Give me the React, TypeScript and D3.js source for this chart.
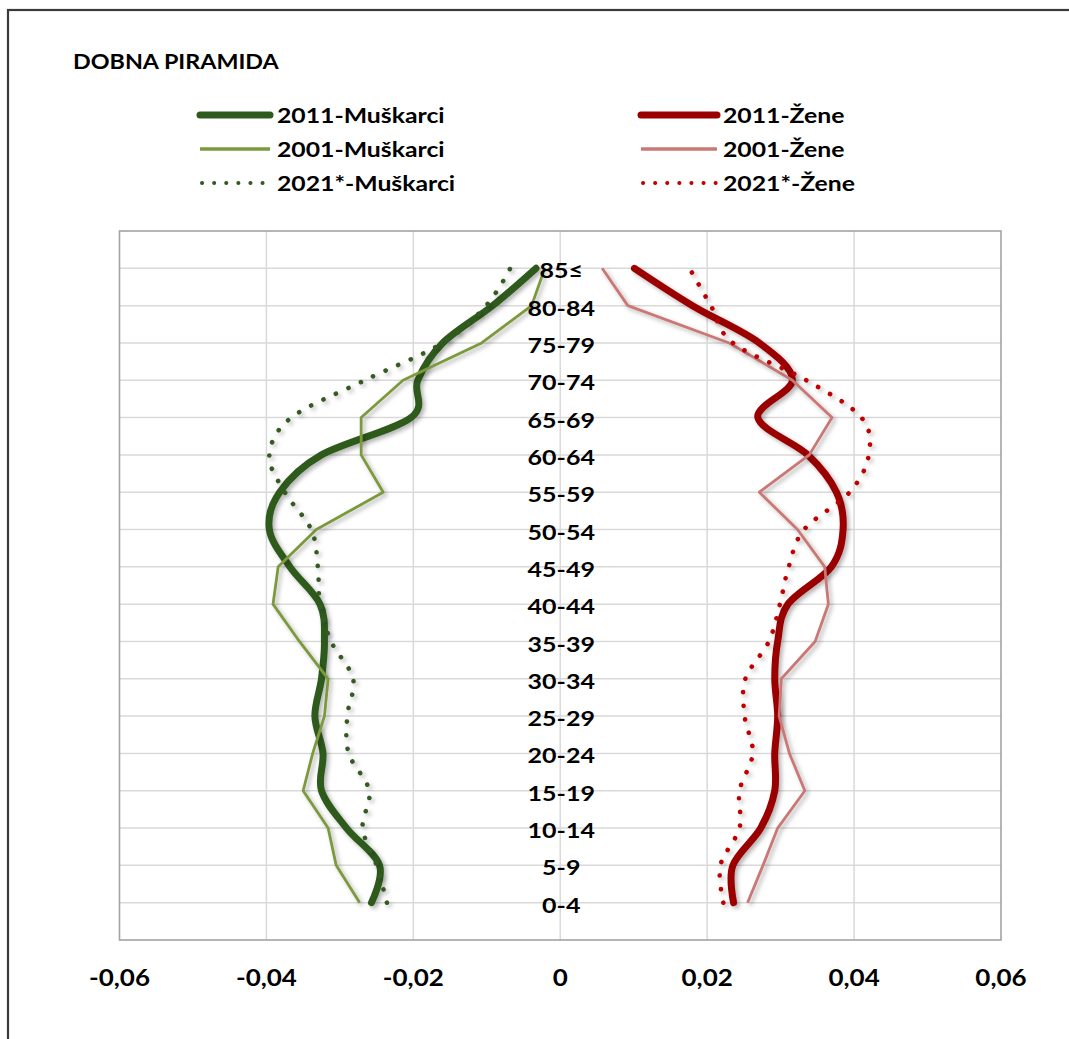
import React from "react";
import * as d3 from "d3";

const ageGroups = ["0-4","5-9","10-14","15-19","20-24","25-29","30-34","35-39","40-44","45-49","50-54","55-59","60-64","65-69","70-74","75-79","80-84","85≤"];

const men2011 = [-0.0257,-0.0246,-0.0291,-0.0325,-0.0323,-0.0334,-0.0325,-0.0321,-0.0327,-0.0368,-0.0396,-0.0382,-0.0325,-0.0203,-0.0194,-0.016,-0.0092,-0.0033];
const men2001 = [-0.0273,-0.0305,-0.0316,-0.035,-0.0337,-0.0321,-0.0316,-0.0355,-0.0391,-0.0384,-0.0332,-0.0241,-0.0271,-0.0271,-0.0214,-0.0107,-0.0039,-0.0021];
const men2021 = [-0.0236,-0.025,-0.0269,-0.026,-0.0288,-0.029,-0.0282,-0.0312,-0.0327,-0.033,-0.0339,-0.0375,-0.0396,-0.0366,-0.0266,-0.016,-0.0101,-0.0068];
const women2011 = [0.0236,0.0235,0.0273,0.0292,0.0292,0.0296,0.0292,0.0296,0.031,0.0369,0.0385,0.0376,0.0337,0.0269,0.0316,0.0271,0.018,0.0101];
const women2001 = [0.0255,0.0276,0.0296,0.0333,0.0312,0.0298,0.0301,0.0347,0.0365,0.036,0.0323,0.0271,0.0339,0.037,0.0316,0.023,0.0092,0.0057];
const women2021 = [0.0222,0.0218,0.0244,0.0244,0.0262,0.0251,0.0252,0.0284,0.0299,0.0311,0.0332,0.0394,0.042,0.041,0.0335,0.0235,0.0205,0.0176];

const xTicks = [-0.06,-0.04,-0.02,0,0.02,0.04,0.06];

const series = [
  { name: "2011-Muškarci", values: men2011, color: "#2f5a1e", kind: "thick" },
  { name: "2011-Žene", values: women2011, color: "#9b0000", kind: "thick" },
  { name: "2001-Muškarci", values: men2001, color: "#7b9a3c", kind: "thin" },
  { name: "2001-Žene", values: women2001, color: "#c97874", kind: "thin" },
  { name: "2021*-Muškarci", values: men2021, color: "#345a22", kind: "dot" },
  { name: "2021*-Žene", values: women2021, color: "#c00000", kind: "dot" },
];

const FONT = "Lato, 'Open Sans', sans-serif";

const locale = d3.formatLocale({ decimal: ",", thousands: ".", grouping: [3], currency: ["", ""], minus: "-" });
const fmt = (v: number) => (Math.abs(v) < 1e-9 ? "0" : locale.format(".2f")(v));

function styleFor(kind: string, color: string) {
  if (kind === "thick") return { stroke: color, strokeWidth: 7, strokeLinecap: "round" as const };
  if (kind === "thin") return { stroke: color, strokeWidth: 2.8, strokeLinecap: "butt" as const };
  return { stroke: color, strokeWidth: 4.6, strokeLinecap: "round" as const, strokeDasharray: "0.1 13.6" };
}

function T({ x, y, sx, size, anchor, children }: { x: number; y: number; sx: number; size: number; anchor?: string; children: React.ReactNode }) {
  return (
    <text transform={`translate(${x},${y}) scale(${sx},1)`} dy="0.36em" fontSize={size} fontWeight={700} fill="#000"
      textAnchor={anchor || "start"}>{children}</text>
  );
}

export default function App() {
  const W = 1069, H = 1039;
  const left = 119.5, right = 1001, top = 231, bottom = 940;
  const x = d3.scaleLinear().domain([-0.06, 0.06]).range([left, right]);
  const y = d3.scaleLinear().domain([-1, 18]).range([bottom, top]);
  const gridY = d3.range(0, 18);
  const smooth = d3.line<number>().x((v) => x(v)).y((_, i) => y(i)).curve(d3.curveCardinal.tension(0));
  const straight = d3.line<number>().x((v) => x(v)).y((_, i) => y(i));

  const legendRows = [
    { m: series[0], f: series[1], yy: 115 },
    { m: series[2], f: series[3], yy: 149 },
    { m: series[4], f: series[5], yy: 183 },
  ];

  return (
    <svg width={W} height={H} style={{ position: "absolute", left: 0, top: 0, background: "#fff" }} fontFamily={FONT}>
      <defs>
        <filter id="sh" x="-10%" y="-10%" width="120%" height="120%">
          <feDropShadow dx="2.5" dy="2.5" stdDeviation="2" floodColor="#000" floodOpacity="0.3" />
        </filter>
      </defs>
      <rect x={0} y={0} width={W} height={H} fill="#fff" />
      <rect x={8} y={10} width={W + 20} height={H + 20} fill="none" stroke="#3a3a3a" strokeWidth={2.2} />
      <T x={73} y={61} sx={1.11} size={21}>DOBNA PIRAMIDA</T>

      {legendRows.map((r, i) => (
        <g key={i}>
          {[{ s: r.m, x1: 200, x2: 270, tx: 277 }, { s: r.f, x1: 641, x2: 717, tx: 723 }].map((c, j) => {
            const st = styleFor(c.s.kind, c.s.color);
            const w = c.s.kind === "thin" ? 3.4 : c.s.kind === "dot" ? 4 : st.strokeWidth;
            return (
              <g key={j}>
                <line x1={c.x1 + (c.s.kind === "dot" ? 2 : 0)} x2={c.x2} y1={r.yy} y2={r.yy} {...st} strokeWidth={w}
                  strokeDasharray={c.s.kind === "dot" ? "0.1 12" : undefined} />
                <T x={c.tx} y={r.yy} sx={1.18} size={21}>{c.s.name}</T>
              </g>
            );
          })}
        </g>
      ))}

      {gridY.map((g) => (
        <line key={"gy" + g} x1={left} x2={right} y1={y(g)} y2={y(g)} stroke="#d9d9d9" strokeWidth={1.5} />
      ))}
      {xTicks.slice(1, -1).map((t) => (
        <line key={"gx" + t} x1={x(t)} x2={x(t)} y1={top} y2={bottom} stroke="#d9d9d9" strokeWidth={1.5} />
      ))}
      <rect x={left} y={top} width={right - left} height={bottom - top} fill="none" stroke="#a3a3a3" strokeWidth={1.6} />

      {series.map((s) => {
        const d = (s.kind === "thin" ? straight : smooth)(s.values) || "";
        return <path key={s.name} d={d} fill="none" {...styleFor(s.kind, s.color)} strokeLinejoin="round" filter="url(#sh)" />;
      })}

      {ageGroups.map((a, i) => (
        <T key={a} x={x(0) + 1} y={y(i) + 2.5} sx={1.19} size={21} anchor="middle">{a}</T>
      ))}

      {xTicks.map((t) => (
        <T key={"xt" + t} x={x(t)} y={978} sx={1.13} size={23} anchor="middle">{fmt(t)}</T>
      ))}
    </svg>
  );
}
